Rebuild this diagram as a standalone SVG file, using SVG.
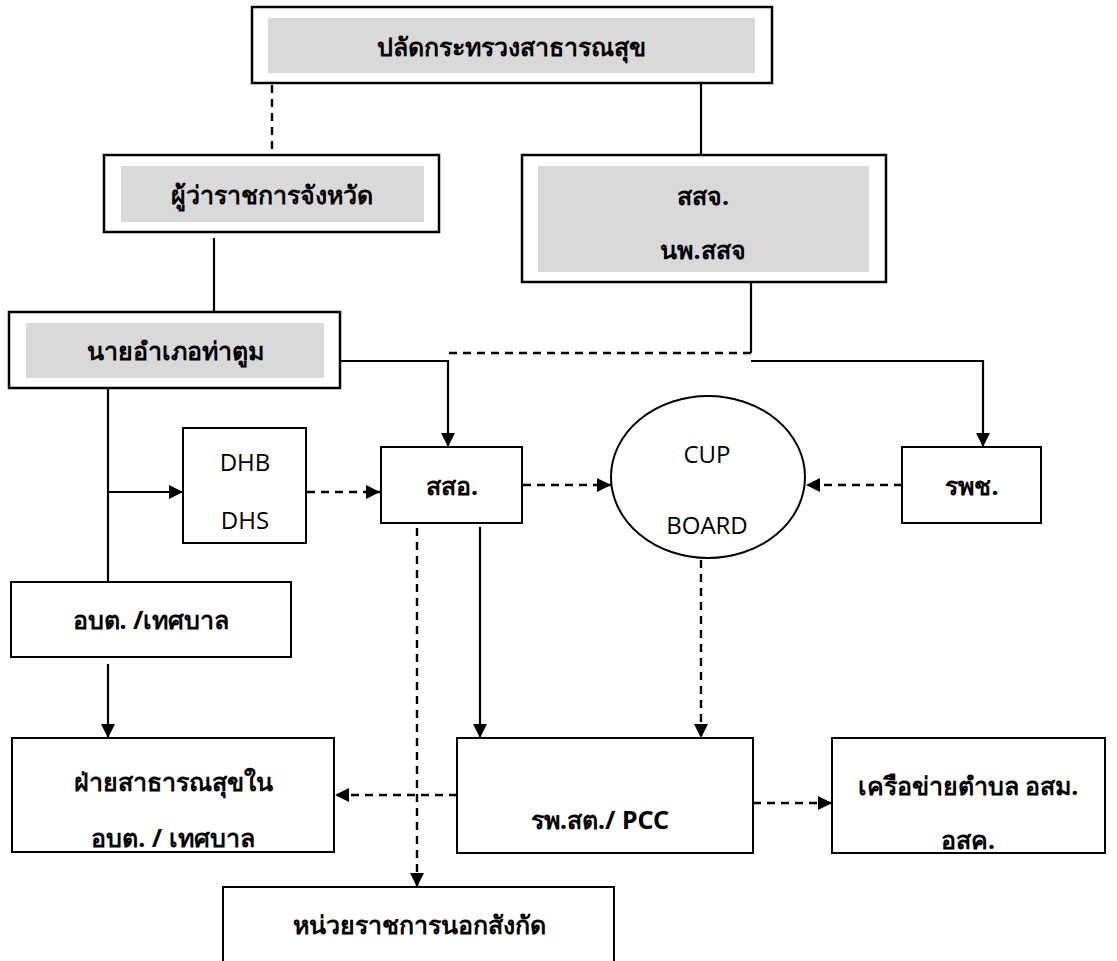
<svg xmlns="http://www.w3.org/2000/svg" width="1117" height="961" viewBox="0 0 1117 961">
<style>
.box{fill:#fff;stroke:#000;stroke-width:2.5}
.sb{fill:#fff;stroke:#000;stroke-width:2}
.gray{fill:#d9d9d9;stroke:none}
.th{font-family:"Noto Sans","DejaVu Sans",sans-serif;font-size:25px;font-weight:bold;fill:#000;text-anchor:middle}
.en{font-family:"Open Sans","Noto Sans",sans-serif;font-size:24px;fill:#000;text-anchor:middle}
.ln{fill:none;stroke:#000;stroke-width:2.2}
.ds{fill:none;stroke:#000;stroke-width:2.4;stroke-dasharray:8 6}
</style>
<defs>
<marker id="ah" viewBox="0 0 14 14" refX="14" refY="7" markerWidth="14" markerHeight="14" markerUnits="userSpaceOnUse" orient="auto">
<path d="M0,0 L14,7 L0,14 Z" fill="#000"/>
</marker>
</defs>
<g id="connectors">
<line class="ds" x1="272" y1="85" x2="272" y2="152"/>
<line class="ln" x1="701" y1="84" x2="701" y2="155"/>
<line class="ln" x1="214" y1="238" x2="214" y2="312"/>
<polyline class="ln" points="751,282 751,353"/>
<polyline class="ds" points="751,353 448,353"/>
<polyline class="ln" points="340,361 448,361 448,447" marker-end="url(#ah)"/>
<polyline class="ln" points="751,361 983,361 983,447" marker-end="url(#ah)"/>
<line class="ln" x1="108" y1="388" x2="108" y2="588"/>
<line class="ln" x1="107" y1="492" x2="183" y2="492" marker-end="url(#ah)"/>
<line class="ds" x1="307" y1="492" x2="380" y2="492" marker-end="url(#ah)"/>
<line class="ds" x1="523" y1="485" x2="611" y2="485" marker-end="url(#ah)"/>
<line class="ds" x1="902" y1="485" x2="806" y2="485" marker-end="url(#ah)"/>
<line class="ln" x1="108" y1="664" x2="108" y2="738" marker-end="url(#ah)"/>
<line class="ln" x1="480" y1="527" x2="480" y2="738" marker-end="url(#ah)"/>
<line class="ds" x1="701" y1="560" x2="701" y2="738" marker-end="url(#ah)"/>
<line class="ds" x1="417" y1="528" x2="417" y2="887" marker-end="url(#ah)"/>
<line class="ds" x1="457" y1="795" x2="335" y2="795" marker-end="url(#ah)"/>
<line class="ds" x1="753" y1="803" x2="832" y2="803" marker-end="url(#ah)"/>
</g>
<g id="n-permsec">
<rect class="box" x="252" y="7" width="520" height="76"/>
<rect class="gray" x="268" y="18" width="487" height="55"/>
<text class="th" x="511" y="56">ปลัดกระทรวงสาธารณสุข</text>
</g>
<g id="n-governor">
<rect class="box" x="104" y="155" width="335" height="77"/>
<rect class="gray" x="121" y="166" width="303" height="56"/>
<text class="th" x="272" y="204">ผู้ว่าราชการจังหวัด</text>
</g>
<g id="n-ssj">
<rect class="box" x="522" y="155" width="364" height="127"/>
<rect class="gray" x="538" y="166" width="331" height="106"/>
<text class="th" x="703" y="205">สสจ.</text>
<text class="th" x="703" y="259">นพ.สสจ</text>
</g>
<g id="n-district">
<rect class="box" x="9" y="312" width="331" height="76"/>
<rect class="gray" x="26" y="323" width="298" height="55"/>
<text class="th" x="175" y="360">นายอำเภอท่าตูม</text>
</g>
<g id="n-dhb">
<rect class="sb" x="183" y="428" width="123" height="115"/>
<text class="en" x="245" y="471">DHB</text>
<text class="en" x="245" y="529">DHS</text>
</g>
<g id="n-sso">
<rect class="sb" x="381" y="447" width="141" height="76"/>
<text class="th" x="452" y="495">สสอ.</text>
</g>
<g id="n-cup">
<ellipse class="sb" cx="708" cy="477" rx="97" ry="81"/>
<text class="en" x="707" y="463">CUP</text>
<text class="en" x="707" y="534">BOARD</text>
</g>
<g id="n-hosp">
<rect class="sb" x="902" y="447" width="139" height="76"/>
<text class="th" x="972" y="495">รพช.</text>
</g>
<g id="n-tao">
<rect class="sb" x="11" y="582" width="280" height="75"/>
<text class="th" x="151" y="629">อบต. /เทศบาล</text>
</g>
<g id="n-taohealth">
<rect class="sb" x="12" y="738" width="322" height="114"/>
<text class="th" x="173" y="791">ฝ่ายสาธารณสุขใน</text>
<text class="th" x="173" y="847">อบต. / เทศบาล</text>
</g>
<g id="n-rpst">
<rect class="sb" x="457" y="738" width="296" height="115"/>
<text class="th" x="600" y="829">รพ.สต./ PCC</text>
</g>
<g id="n-network">
<rect class="sb" x="832" y="738" width="273" height="115"/>
<text class="th" x="968" y="795">เครือข่ายตำบล อสม.</text>
<text class="th" x="968" y="849">อสค.</text>
</g>
<g id="n-outside">
<rect class="sb" x="223" y="887" width="391" height="90"/>
<text class="th" x="419" y="934">หน่วยราชการนอกสังกัด</text>
</g>
</svg>
